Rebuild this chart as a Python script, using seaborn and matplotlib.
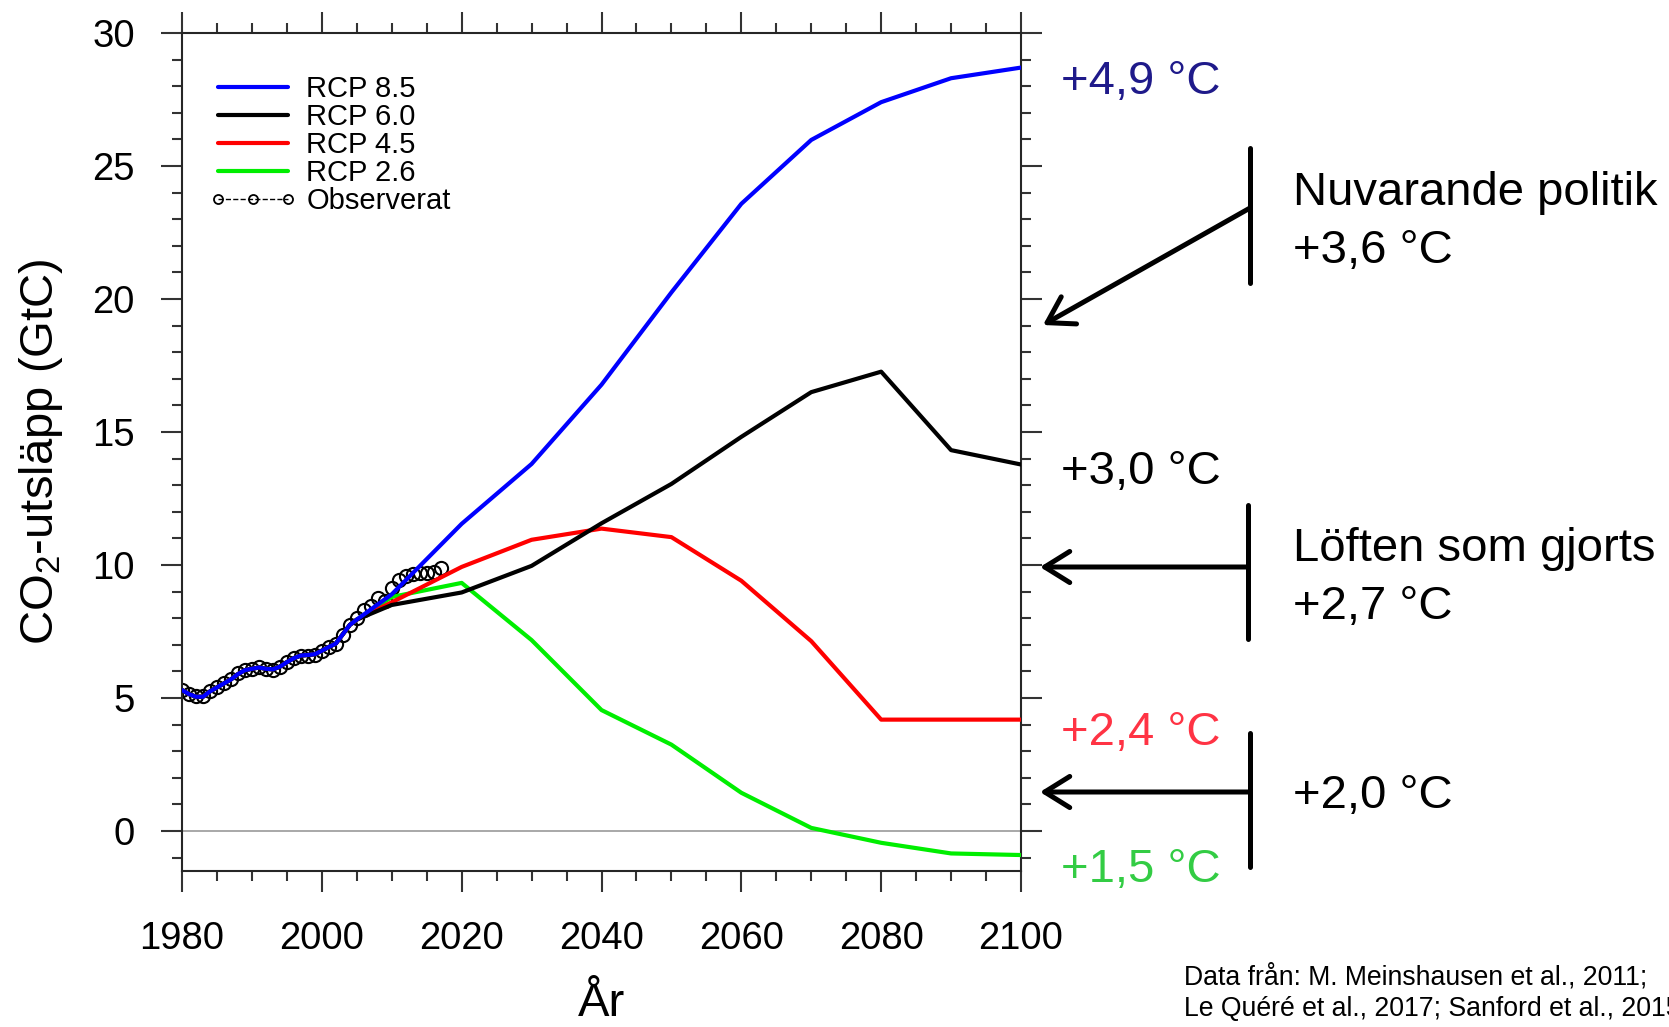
import numpy as np
import pandas as pd
import matplotlib
matplotlib.use('Agg')
import matplotlib.pyplot as plt
from matplotlib.lines import Line2D
from matplotlib.ticker import MultipleLocator
import seaborn as sns

# %% Data (GtC per year)
hist_years = list(range(1980, 2006))
hist_vals = [5.30, 5.15, 5.05, 5.05, 5.25, 5.40, 5.55, 5.70, 5.90, 6.05,
             6.10, 6.15, 6.10, 6.08, 6.18, 6.35, 6.50, 6.60, 6.62, 6.65,
             6.78, 6.92, 7.05, 7.40, 7.75, 7.95]

scen_years = [2010, 2020, 2030, 2040, 2050, 2060, 2070, 2080, 2090, 2100]
rcp85 = [8.90, 11.55, 13.80, 16.78, 20.25, 23.58, 25.98, 27.40, 28.30, 28.70]
rcp60 = [8.50, 8.97, 9.97, 11.57, 13.05, 14.82, 16.50, 17.27, 14.32, 13.78]
rcp45 = [8.60, 9.93, 10.95, 11.37, 11.05, 9.41, 7.14, 4.19, 4.19, 4.19]
rcp26 = [8.80, 9.33, 7.18, 4.55, 3.25, 1.44, 0.12, -0.44, -0.84, -0.90]

obs_years = list(range(1980, 2018))
obs_vals = [5.30, 5.15, 5.08, 5.07, 5.28, 5.42, 5.57, 5.72, 5.93, 6.05,
            6.10, 6.17, 6.08, 6.06, 6.18, 6.35, 6.50, 6.58, 6.60, 6.62,
            6.78, 6.92, 7.02, 7.38, 7.75, 8.00, 8.30, 8.48, 8.75, 8.65,
            9.15, 9.45, 9.60, 9.68, 9.72, 9.72, 9.74, 9.88]

scenarios = ['RCP 8.5', 'RCP 6.0', 'RCP 4.5', 'RCP 2.6']
scen_vals = [rcp85, rcp60, rcp45, rcp26]
colors = {'RCP 8.5': '#0000ff', 'RCP 6.0': '#000000',
          'RCP 4.5': '#ff0000', 'RCP 2.6': '#00ee00'}

rows = []
for name, vals in zip(scenarios, scen_vals):
    for yr, v in zip(hist_years + scen_years, hist_vals + vals):
        rows.append({'year': yr, 'co2': v, 'scenario': name})
rcp_df = pd.DataFrame(rows)
obs_df = pd.DataFrame({'year': obs_years, 'co2': obs_vals})

# %% Figure
W, H = 1669, 1027
sns.set_style('ticks')
plt.rcParams['font.family'] = ['Liberation Sans', 'DejaVu Sans']
plt.rcParams['mathtext.fontset'] = 'custom'
plt.rcParams['mathtext.rm'] = 'Liberation Sans'
plt.rcParams['mathtext.it'] = 'Liberation Sans:italic'
plt.rcParams['text.color'] = 'black'
plt.rcParams['axes.labelcolor'] = 'black'
plt.rcParams['xtick.labelcolor'] = 'black'
plt.rcParams['ytick.labelcolor'] = 'black'

fig = plt.figure(figsize=(W / 100, H / 100), dpi=100)
ax = fig.add_axes([182 / W, 1 - 871 / H, (1021 - 182) / W, (871 - 33) / H])

ax.axhline(0, color='0.6', lw=1.2, zorder=1)

sns.lineplot(data=obs_df, x='year', y='co2', ax=ax, color='black',
             marker='o', linestyle='none', markersize=9.5,
             markerfacecolor='none', markeredgecolor='black',
             markeredgewidth=1.5, zorder=2)

sns.lineplot(data=rcp_df, x='year', y='co2', hue='scenario',
             hue_order=['RCP 2.6', 'RCP 4.5', 'RCP 6.0', 'RCP 8.5'],
             palette=colors, linewidth=3.0, legend=False, ax=ax, zorder=3)

ax.set_xlim(1980, 2100)
ax.set_ylim(-1.5, 30)
ax.xaxis.set_major_locator(MultipleLocator(20))
ax.xaxis.set_minor_locator(MultipleLocator(5))
ax.yaxis.set_major_locator(MultipleLocator(5))
ax.yaxis.set_minor_locator(MultipleLocator(1))
ax.tick_params(which='both', direction='out', top=True, right=True,
               labeltop=False, labelright=False, width=1.5, color='0.2',
               labelcolor='black')
ax.tick_params(which='major', length=15, labelsize=27.5)
ax.tick_params(which='minor', length=7.5)
ax.tick_params(axis='x', which='major', pad=21)
ax.tick_params(axis='y', which='major', pad=19)
for sp in ax.spines.values():
    sp.set_linewidth(1.5)
    sp.set_color('0.15')

ax.set_xlabel('År', fontsize=34)
ax.set_ylabel('CO$_2$-utsläpp (GtC)', fontsize=34)
ax.xaxis.set_label_coords(0.5, -0.133)
ax.yaxis.set_label_coords(-0.14, 0.5)

# legend
handles = [Line2D([], [], color=colors[s], lw=3.0) for s in scenarios]
handles.append(Line2D([], [], color='black', ls='--', lw=1.0, marker='o',
                      markersize=6.5, markerfacecolor='none',
                      markeredgecolor='black', markeredgewidth=1.3))
labels = scenarios + ['Observerat']
ax.legend(handles, labels, loc='upper left', bbox_to_anchor=(0.032, 0.950),
          frameon=False, fontsize=21, handlelength=3.0, handletextpad=0.34,
          labelspacing=0.0, borderpad=0, borderaxespad=0, numpoints=3)


# %% Annotations outside the axes (figure pixels, y from top)
def fx(x):
    return x / W


def fy(y):
    return 1 - y / H


temp_labels = [('+4,9 °C', 82, '#1f1a8a'), ('+3,0 °C', 472, 'black'),
               ('+2,4 °C', 733, '#ff3344'), ('+1,5 °C', 870, '#33cc44')]
for txt, y, c in temp_labels:
    fig.text(fx(1061), fy(y), txt, color=c, fontsize=34, ha='left', va='center')

side_labels = [('Nuvarande politik', 193), ('+3,6 °C', 251),
               ('Löften som gjorts', 549), ('+2,7 °C', 607),
               ('+2,0 °C', 796)]
for txt, y in side_labels:
    fig.text(fx(1293), fy(y), txt, color='black', fontsize=34, ha='left', va='center')

bars = [(1250, 148, 283), (1248, 505, 639), (1250, 733, 867)]
for x, y0, y1 in bars:
    fig.add_artist(Line2D([fx(x), fx(x)], [fy(y0), fy(y1)], color='black',
                          lw=3.6, transform=fig.transFigure))

arrows = [((1250, 208), (1043, 325)), ((1248, 567), (1040, 567)),
          ((1250, 792), (1040, 792))]
for (x0, y0), (x1, y1) in arrows:
    ax.annotate('', xy=(x1, H - y1), xycoords='figure pixels',
                xytext=(x0, H - y0), textcoords='figure pixels',
                arrowprops=dict(arrowstyle='->,head_length=0.45,head_width=0.28',
                                lw=3.6, color='black', mutation_scale=40,
                                shrinkA=0, shrinkB=0),
                annotation_clip=False)

fig.text(fx(1184), fy(977), 'Data från: M. Meinshausen et al., 2011;',
         fontsize=19.2, ha='left', va='center')
fig.text(fx(1184), fy(1009), 'Le Quéré et al., 2017; Sanford et al., 2015',
         fontsize=19.2, ha='left', va='center')

fig.savefig('out.png', dpi=100)
